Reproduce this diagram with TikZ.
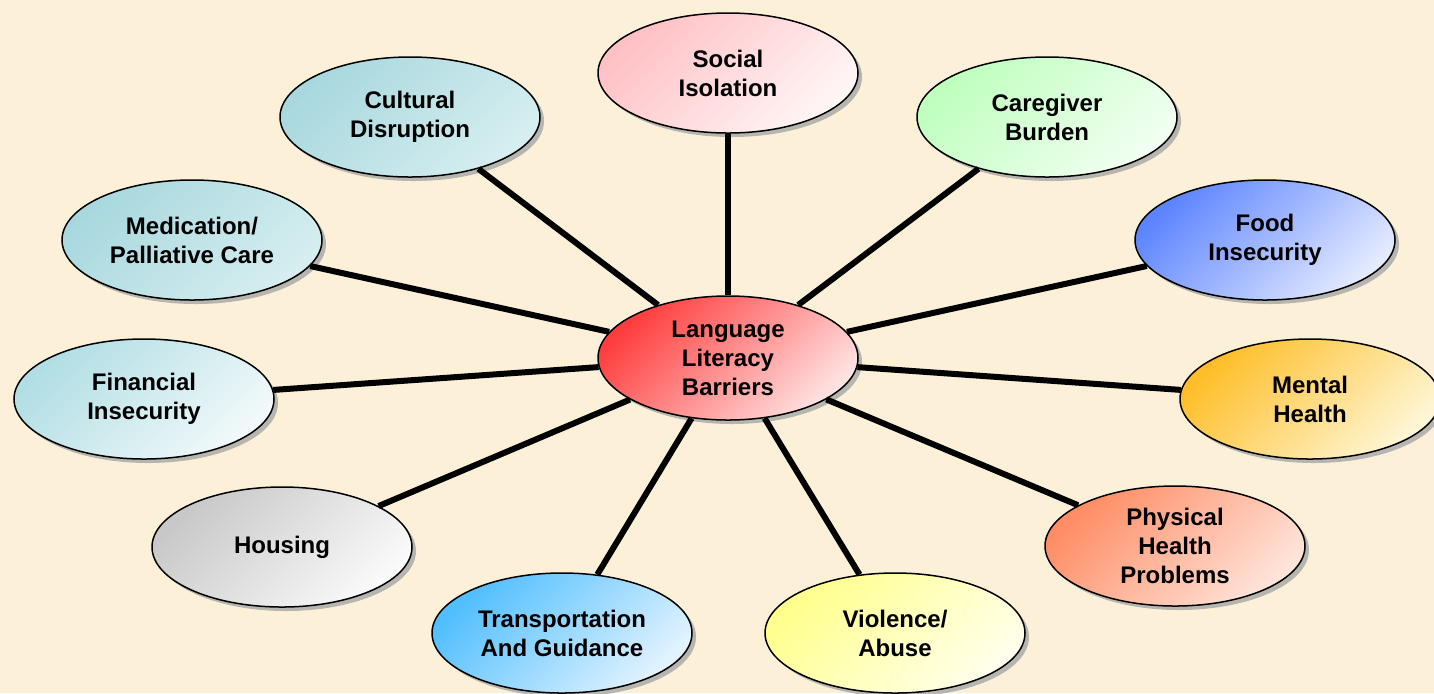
\documentclass[tikz,border=0pt]{standalone}
\usepackage{fontspec}
\setmainfont{Liberation Sans}
\usetikzlibrary{shapes.geometric,shadows}

\begin{document}
\begin{tikzpicture}[x=0.5pt, y=-0.5pt,
  font=\fontsize{12}{14.5}\selectfont\bfseries,
  bubble/.style={ellipse, draw=black, line width=0.75pt, minimum width=130pt, minimum height=60pt,
    inner sep=0pt, align=center,
    drop shadow={shadow xshift=2pt, shadow yshift=-2pt, fill=black!35, opacity=0.8}},
  tint/.style args={#1 to #2}{top color=#1, bottom color=#2, shading angle=45},
  spoke/.style={line width=3pt, black}]

\definecolor{paper}{RGB}{252,241,216}
\definecolor{redA}{RGB}{255,60,60}     \definecolor{redB}{RGB}{255,226,226}
\definecolor{pinkA}{RGB}{255,192,196}  \definecolor{pinkB}{RGB}{255,246,246}
\definecolor{tealA}{RGB}{168,216,222}  \definecolor{tealB}{RGB}{214,238,240}
\definecolor{paleA}{RGB}{176,222,228}  \definecolor{paleB}{RGB}{242,249,250}
\definecolor{greenA}{RGB}{190,255,190} \definecolor{greenB}{RGB}{242,255,242}
\definecolor{blueA}{RGB}{92,132,255}   \definecolor{blueB}{RGB}{228,234,255}
\definecolor{goldA}{RGB}{255,190,40}   \definecolor{goldB}{RGB}{255,246,214}
\definecolor{greyA}{RGB}{200,200,200}  \definecolor{greyB}{RGB}{250,250,250}
\definecolor{salmonA}{RGB}{255,140,100} \definecolor{salmonB}{RGB}{255,228,218}
\definecolor{skyA}{RGB}{80,190,255}    \definecolor{skyB}{RGB}{226,243,255}
\definecolor{lemonA}{RGB}{255,255,140} \definecolor{lemonB}{RGB}{255,255,236}

\useasboundingbox (0,0) rectangle (1434,693);
\fill[paper] (0,0) rectangle (1434,693);

% hub
\node[bubble, tint=redA to redB, minimum height=62pt] (barriers) at (728,358) {Language\\Literacy\\Barriers};

% outer ring
\node[bubble, tint=pinkA to pinkB]     (social)     at (728,73)   {Social\\Isolation};
\node[bubble, tint=tealA to tealB]     (cultural)   at (410,117)  {Cultural\\Disruption};
\node[bubble, tint=greenA to greenB]   (caregiver)  at (1047,117) {Caregiver\\Burden};
\node[bubble, tint=tealA to tealB]     (medication) at (192,240)  {Medication/\\Palliative Care};
\node[bubble, tint=blueA to blueB]     (food)       at (1265,240) {Food\\Insecurity};
\node[bubble, tint=paleA to paleB]     (financial)  at (144,399)  {Financial\\Insecurity};
\node[bubble, tint=goldA to goldB]     (mental)     at (1310,399) {Mental\\Health};
\node[bubble, tint=greyA to greyB]     (housing)    at (282,547)  {Housing};
\node[bubble, tint=salmonA to salmonB] (physical)   at (1175,546) {Physical\\Health\\Problems};
\node[bubble, tint=skyA to skyB]       (transport)  at (562,633)  {Transportation\\And Guidance};
\node[bubble, tint=lemonA to lemonB]   (violence)   at (895,633)  {Violence/\\Abuse};

\foreach \n in {social,cultural,caregiver,medication,food,financial,mental,housing,physical,transport,violence}
\draw[spoke] (barriers) -- (\n);
\end{tikzpicture}
\end{document}
